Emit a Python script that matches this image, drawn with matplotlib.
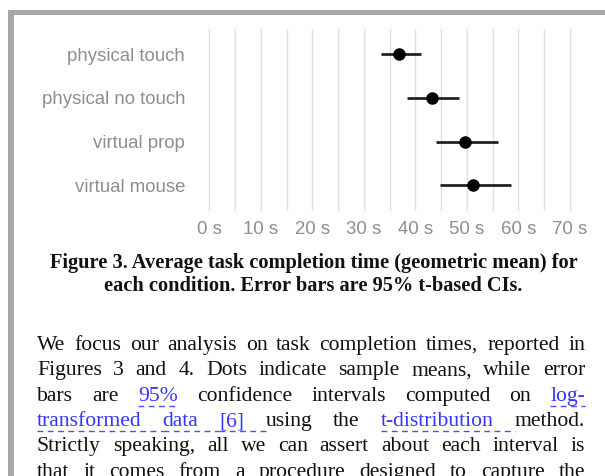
import matplotlib
matplotlib.use("Agg")
import matplotlib.pyplot as plt
from matplotlib.lines import Line2D
from matplotlib.patches import Rectangle

# ---------------- data ----------------
conditions = ["physical touch", "physical no touch", "virtual prop", "virtual mouse"]
means = [36.8, 43.2, 49.6, 51.1]
ci_low = [33.3, 38.4, 44.0, 44.7]
ci_high = [41.0, 48.5, 56.1, 58.6]
xticks = [0, 10, 20, 30, 40, 50, 60, 70]
xtick_labels = ["0 s", "10 s", "20 s", "30 s", "40 s", "50 s", "60 s", "70 s"]

caption_lines = [
    "Figure 3. Average task completion time (geometric mean) for",
    "each condition. Error bars are 95% t-based CIs.",
]
# (word, is_link, underline_trailing_space)
body_lines = [
    [("We", 0, 0), ("focus", 0, 0), ("our", 0, 0), ("analysis", 0, 0), ("on", 0, 0), ("task", 0, 0),
     ("completion", 0, 0), ("times,", 0, 0), ("reported", 0, 0), ("in", 0, 0)],
    [("Figures", 0, 0), ("3", 0, 0), ("and", 0, 0), ("4.", 0, 0), ("Dots", 0, 0), ("indicate", 0, 0),
     ("sample", 0, 0), ("means,", 0, 0), ("while", 0, 0), ("error", 0, 0)],
    [("bars", 0, 0), ("are", 0, 0), ("95%", 1, 0), ("confidence", 0, 0), ("intervals", 0, 0),
     ("computed", 0, 0), ("on", 0, 0), ("log-", 1, 0)],
    [("transformed", 1, 1), ("data", 1, 1), ("[6]", 1, 1), ("using", 0, 0), ("the", 0, 0),
     ("t-distribution", 1, 1), ("method.", 0, 0)],
    [("Strictly", 0, 0), ("speaking,", 0, 0), ("all", 0, 0), ("we", 0, 0), ("can", 0, 0), ("assert", 0, 0),
     ("about", 0, 0), ("each", 0, 0), ("interval", 0, 0), ("is", 0, 0)],
    [("that", 0, 0), ("it", 0, 0), ("comes", 0, 0), ("from", 0, 0), ("a", 0, 0), ("procedure", 0, 0),
     ("designed", 0, 0), ("to", 0, 0), ("capture", 0, 0), ("the", 0, 0)],
]

# ---------------- figure ----------------
W, H = 605, 476
DPI = 100
fig = plt.figure(figsize=(W / DPI, H / DPI), dpi=DPI)
fig.patch.set_facecolor("white")


def fx(px):
    return px / W


def fy(py):
    return 1 - py / H


# screenshot frame (gray border top & left)
fig.add_artist(Rectangle((fx(8), fy(15)), fx(W) - fx(8), 5 / H, transform=fig.transFigure,
                         facecolor="#a8a8a8", edgecolor="none"))
fig.add_artist(Rectangle((fx(8), 0), 6 / W, fy(10), transform=fig.transFigure,
                         facecolor="#a8a8a8", edgecolor="none"))

# ---------------- chart ----------------
px_per_s = (570.0 - 209.3) / 70.0
x0, x1 = -2, 72
ax_left = 209.3 + x0 * px_per_s
ax_right = 209.3 + x1 * px_per_s
ax_top, ax_bottom = 29.3, 211.0
ax = fig.add_axes([fx(ax_left), fy(ax_bottom), (ax_right - ax_left) / W, (ax_bottom - ax_top) / H])
ax.set_xlim(x0, x1)
row0, row_step = 54.3, 43.6
ax.set_ylim((ax_bottom - row0) / row_step, (ax_top - row0) / row_step)

for v in range(0, 75, 5):
    ax.axvline(v, color="#e0e0e0", lw=1.0, zorder=0)

ypos = list(range(len(conditions)))
for i in ypos:
    ax.plot([ci_low[i], ci_high[i]], [i, i], color="#222222", lw=2.0, solid_capstyle="butt", zorder=2)
ax.plot(means, ypos, "o", color="black", ms=8.0, zorder=3)

for s in ax.spines.values():
    s.set_visible(False)
ax.set_xticks(xticks)
ax.set_xticklabels(xtick_labels)
ax.set_yticks(ypos)
ax.set_yticklabels(conditions)
ax.tick_params(axis="both", length=0, labelsize=13.4, labelcolor="#8e8e8e")
ax.tick_params(axis="y", pad=10)
ax.tick_params(axis="x", pad=7)
for lab in ax.get_xticklabels() + ax.get_yticklabels():
    lab.set_fontfamily("Liberation Sans")

# ---------------- caption ----------------
renderer = fig.canvas.get_renderer()
probe = fig.text(0, 0, caption_lines[0], fontsize=10, family="Liberation Serif", weight="bold")
wcap = probe.get_window_extent(renderer).width
probe.remove()
cap_size = 10 * 531.0 / wcap
for line, base in zip(caption_lines, [268.3, 291.0]):
    fig.text(fx(313.5), fy(base), line, ha="center", va="baseline", fontsize=cap_size,
             family="Liberation Serif", weight="bold", color="#111111")

# ---------------- body (justified) ----------------
body_size = 15.6
left, right = 37.0, 585.0
blue = "#3535ff"
baselines = [350.0, 375.3, 400.7, 426.0, 451.3, 476.6]
for words, base in zip(body_lines, baselines):
    widths = []
    for w, link, _ in words:
        t = fig.text(0, 0, w, fontsize=body_size, family="Liberation Serif")
        widths.append(t.get_window_extent(renderer).width)
        t.remove()
    gap = (right - left - sum(widths)) / (len(words) - 1)
    x = left
    for (w, link, trail), wd in zip(words, widths):
        fig.text(fx(x), fy(base), w, ha="left", va="baseline", fontsize=body_size,
                 family="Liberation Serif", color=blue if link else "#111111")
        if link:
            end = x + wd + (gap if trail else 0)
            fig.add_artist(Line2D([fx(x), fx(end)], [fy(base + 4.8), fy(base + 4.8)],
                                  transform=fig.transFigure, color="#4d4dff", lw=1.0,
                                  linestyle=(0, (4.2, 3.2))))
        x += wd + gap

fig.savefig("out.png", dpi=DPI)
